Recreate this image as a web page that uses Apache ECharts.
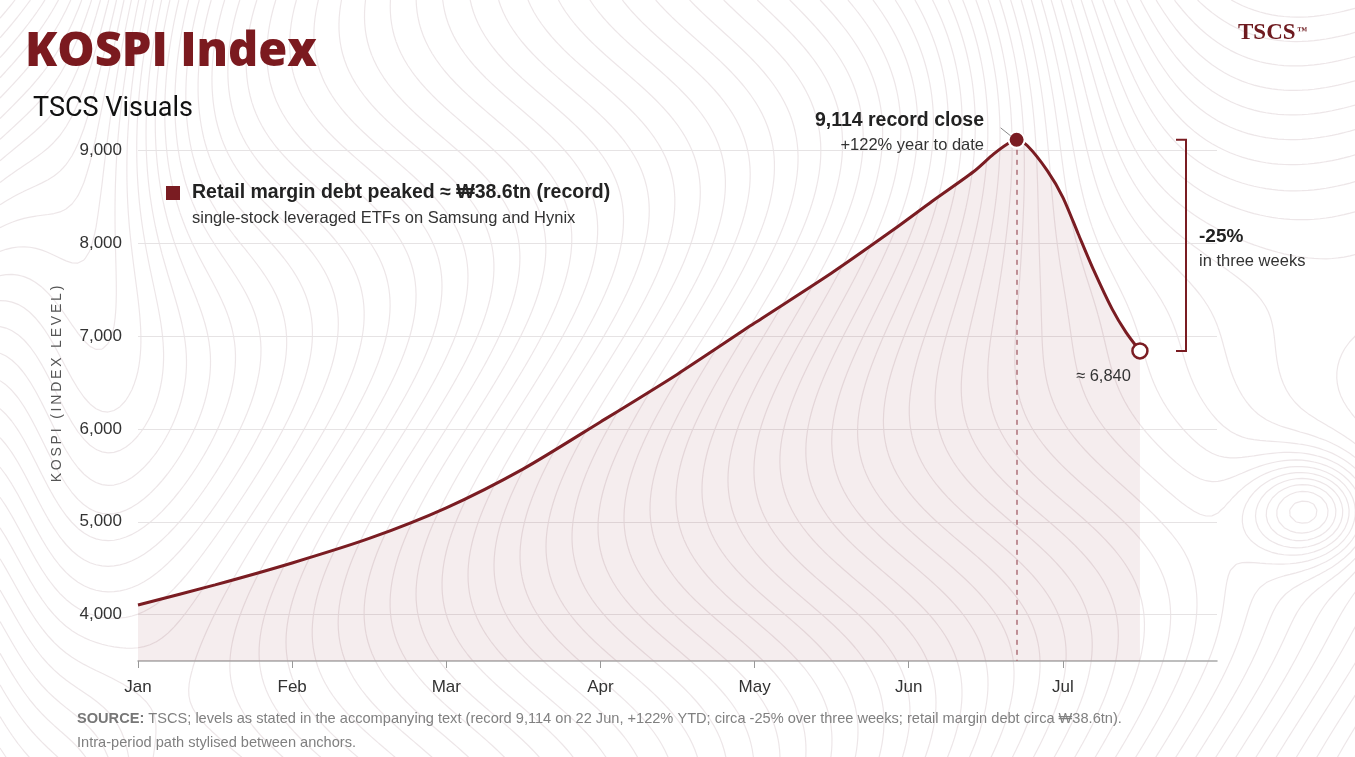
<!DOCTYPE html>
<html>
<head>
<meta charset="UTF-8">
<title>KOSPI Index</title>
<script src="https://cdn.jsdelivr.net/npm/echarts@6/dist/echarts.min.js"></script>
<style>
  html, body { margin: 0; padding: 0; background: #fff; }
  #chart { width: 1355px; height: 757px; }
</style>
</head>
<body>
<div id="chart"></div>
<script>
// month index (0 = 1 Jan, 1 = 1 Feb, ...) and KOSPI level
const months = ['Jan', 'Feb', 'Mar', 'Apr', 'May', 'Jun', 'Jul'];
const pathX = [0, 0.5, 1, 1.5, 2, 2.5, 3, 3.5, 4, 4.5, 4.9, 5.15, 5.42, 5.55, 5.64, 5.7,
               5.77, 5.9, 6.0, 6.1, 6.2, 6.32, 6.41, 6.5];
const pathY = [4103, 4320, 4556, 4820, 5150, 5570, 6075, 6590, 7140, 7680, 8145, 8450, 8770, 8960, 9070, 9114,
               9050, 8780, 8495, 8100, 7710, 7290, 7040, 6840];
const yTicks = [4000, 5000, 6000, 7000, 8000, 9000];
const peakPoint = [5.7, 9114];
const endPoint = [6.5, 6840];

const RED = '#7a1c22';
const chart = echarts.init(document.getElementById('chart'), null, { renderer: 'canvas' });

// faint topographic texture for the backdrop (decoration only)
function field(x, y) {
    const base = x / 26 + 3 * Math.sin(y / 95 + x / 260);
    const wR = 1 / (1 + Math.exp(-(x - 1060) / 60)) * 1 / (1 + Math.exp((y - 330) / 50));
    const right = 1060 / 26 + 4 + (330 - y) / 24 + 1.5 * Math.sin(x / 90);
    const wL = 1 / (1 + Math.exp((x - 110) / 35));
    const left = 110 / 26 + (y - 400) / 24 + 2 * Math.sin(x / 45 + y / 200);
    let v = base * (1 - wR - wL) + right * wR + left * wL;
    v -= 9 * Math.exp(-(((x - 1310) / 60) ** 2 + ((y - 510) / 50) ** 2));
    return v;
}
function contourCanvas() {
    const W = 1355, H = 757, step = 6;
    const cv = document.createElement('canvas');
    cv.width = W; cv.height = H;
    const ctx = cv.getContext('2d');
    ctx.strokeStyle = 'rgba(200,178,186,0.33)';
    ctx.lineWidth = 1.2;
    const nx = Math.ceil(W / step) + 1, ny = Math.ceil(H / step) + 1;
    const g = [];
    for (let j = 0; j < ny; j++) {
        g.push([]);
        for (let i = 0; i < nx; i++) g[j].push(field(i * step, j * step));
    }
    const lerp = (a, b, va, vb, lv) => a + (b - a) * (lv - va) / (vb - va);
    ctx.beginPath();
    for (let j = 0; j < ny - 1; j++) {
        for (let i = 0; i < nx - 1; i++) {
            const v0 = g[j][i], v1 = g[j][i + 1], v2 = g[j + 1][i + 1], v3 = g[j + 1][i];
            const lo = Math.ceil(Math.min(v0, v1, v2, v3)), hi = Math.floor(Math.max(v0, v1, v2, v3));
            for (let lv = lo; lv <= hi; lv++) {
                const x0 = i * step, y0 = j * step, x1 = x0 + step, y1 = y0 + step;
                const pts = [];
                if ((v0 < lv) !== (v1 < lv)) pts.push([lerp(x0, x1, v0, v1, lv), y0]);
                if ((v1 < lv) !== (v2 < lv)) pts.push([x1, lerp(y0, y1, v1, v2, lv)]);
                if ((v3 < lv) !== (v2 < lv)) pts.push([lerp(x0, x1, v3, v2, lv), y1]);
                if ((v0 < lv) !== (v3 < lv)) pts.push([x0, lerp(y0, y1, v0, v3, lv)]);
                for (let k = 0; k + 1 < pts.length; k += 2) {
                    ctx.moveTo(pts[k][0], pts[k][1]);
                    ctx.lineTo(pts[k + 1][0], pts[k + 1][1]);
                }
            }
        }
    }
    ctx.stroke();
    return cv;
}

const option = {
    backgroundColor: '#fff',
    animation: false,
    grid: { left: 138, right: 138, top: 104, bottom: 96, containLabel: false },
    xAxis: {
        type: 'value',
        min: 0, max: 7, interval: 1,
        axisLine: { show: true, lineStyle: { color: '#a9a9a9', width: 1.5 } },
        axisTick: { show: true, length: 7, lineStyle: { color: '#999' }, customValues: [0, 1, 2, 3, 4, 5, 6] },
        axisLabel: {
            margin: 18, color: '#333', fontSize: 17, fontFamily: 'Liberation Sans',
            customValues: [0, 1, 2, 3, 4, 5, 6],
            formatter: v => months[v] || ''
        },
        splitLine: { show: false }
    },
    yAxis: {
        type: 'value',
        min: 3500, max: 9500, interval: 500,
        axisLine: { show: false },
        axisTick: { show: false },
        splitLine: { show: false },
        axisLabel: {
            margin: 16, color: '#333', fontSize: 17, fontFamily: 'Liberation Sans',
            formatter: v => (v % 1000 === 0 ? v.toLocaleString('en-US') : '')
        }
    },
    series: [
        {
            type: 'line',
            data: pathX.map((x, i) => [x, pathY[i]]),
            smooth: 0.25,
            showSymbol: false,
            z: 3,
            lineStyle: { color: RED, width: 3 },
            areaStyle: { color: 'rgba(122,28,34,0.11)', origin: 'start' },
            markLine: {
                silent: true,
                symbol: 'none',
                label: { show: false },
                z: 1,
                data: yTicks.map(v => ({ yAxis: v, lineStyle: { color: '#e6e3e4', width: 1.2, type: 'solid' } }))
                    .concat([[
                        { coord: peakPoint, lineStyle: { color: '#b27a80', width: 1.5, type: [5, 5] } },
                        { coord: [peakPoint[0], 3500] }
                    ]])
            }
        },
        {
            type: 'scatter',
            data: [peakPoint],
            symbolSize: 16,
            z: 5,
            itemStyle: { color: RED, borderColor: '#fff', borderWidth: 2, opacity: 1 }
        },
        {
            type: 'scatter',
            data: [endPoint],
            symbolSize: 15,
            z: 5,
            itemStyle: { color: '#fff', borderColor: RED, borderWidth: 2.5, opacity: 1 }
        }
    ]
};
chart.setOption(option);

const pk = chart.convertToPixel({ gridIndex: 0 }, peakPoint);
const en = chart.convertToPixel({ gridIndex: 0 }, endPoint);
const bx = 1186;
const txt = '#222';
const sans = 'Liberation Sans';

chart.setOption({
    graphic: [
        { type: 'image', silent: true, z: -10, left: 0, top: 0,
          style: { image: contourCanvas(), width: 1355, height: 757 } },
        { type: 'text', left: 25, top: 29, z: 10,
          style: { text: 'KOSPI Index', fill: '#7b1a1f', font: '800 47px "Open Sans"' } },
        { type: 'text', left: 33, top: 96, z: 10,
          style: { text: 'TSCS Visuals', fill: '#111', font: '27px Roboto' } },
        { type: 'text', left: 1238, top: 22, z: 10,
          style: { text: 'TSCS', fill: '#6e1a1f', font: 'bold 23px "Liberation Serif"' } },
        { type: 'text', left: 1297, top: 26, z: 10,
          style: { text: '™', fill: '#6e1a1f', font: 'bold 10px "Liberation Serif"' } },
        { type: 'text', z: 10, x: 57, y: 384, rotation: Math.PI / 2,
          style: { text: 'KOSPI (INDEX LEVEL)'.split('').join('\u2009'), fill: '#555',
                   font: '14px ' + sans, align: 'center', verticalAlign: 'middle' } },
        { type: 'rect', z: 10, shape: { x: 166, y: 186, width: 14, height: 14 }, style: { fill: RED } },
        { type: 'text', z: 10, x: 192, y: 193,
          style: { text: 'Retail margin debt peaked ≈ ₩38.6tn (record)', fill: txt,
                   font: 'bold 19.5px ' + sans, verticalAlign: 'middle' } },
        { type: 'text', z: 10, x: 192, y: 218,
          style: { text: 'single-stock leveraged ETFs on Samsung and Hynix', fill: '#333',
                   font: '16.5px ' + sans, verticalAlign: 'middle' } },
        { type: 'text', z: 10, x: 984, y: 121,
          style: { text: '9,114 record close', fill: txt, font: 'bold 19.5px ' + sans,
                   align: 'right', verticalAlign: 'middle' } },
        { type: 'text', z: 10, x: 984, y: 145,
          style: { text: '+122% year to date', fill: '#333', font: '16.5px ' + sans,
                   align: 'right', verticalAlign: 'middle' } },
        { type: 'line', z: 10, shape: { x1: pk[0] - 16, y1: pk[1] - 12, x2: pk[0] - 6, y2: pk[1] - 4 },
          style: { stroke: '#888', lineWidth: 1 } },
        { type: 'polyline', z: 10,
          shape: { points: [[bx - 10, pk[1]], [bx, pk[1]], [bx, en[1]], [bx - 10, en[1]]] },
          style: { stroke: RED, lineWidth: 2, fill: null } },
        { type: 'text', z: 10, x: 1199, y: 237,
          style: { text: '-25%', fill: txt, font: 'bold 19px ' + sans, verticalAlign: 'middle' } },
        { type: 'text', z: 10, x: 1199, y: 261,
          style: { text: 'in three weeks', fill: '#333', font: '16.5px ' + sans, verticalAlign: 'middle' } },
        { type: 'text', z: 10, x: en[0] - 9, y: en[1] + 26,
          style: { text: '≈ 6,840', fill: '#333', font: '16.5px ' + sans, align: 'right', verticalAlign: 'middle' } },
        { type: 'text', z: 10, x: 77, y: 719,
          style: {
              text: '{b|SOURCE:} TSCS; levels as stated in the accompanying text (record 9,114 on 22 Jun, +122% YTD; circa -25% over three weeks; retail margin debt circa ₩38.6tn).',
              fill: '#808080', font: '14.6px ' + sans, verticalAlign: 'middle',
              rich: { b: { fontWeight: 'bold', fill: '#777', fontSize: 14.6, fontFamily: sans } }
          } },
        { type: 'text', z: 10, x: 77, y: 743,
          style: { text: 'Intra-period path stylised between anchors.', fill: '#808080',
                   font: '14.6px ' + sans, verticalAlign: 'middle' } }
    ]
});
</script>
</body>
</html>
